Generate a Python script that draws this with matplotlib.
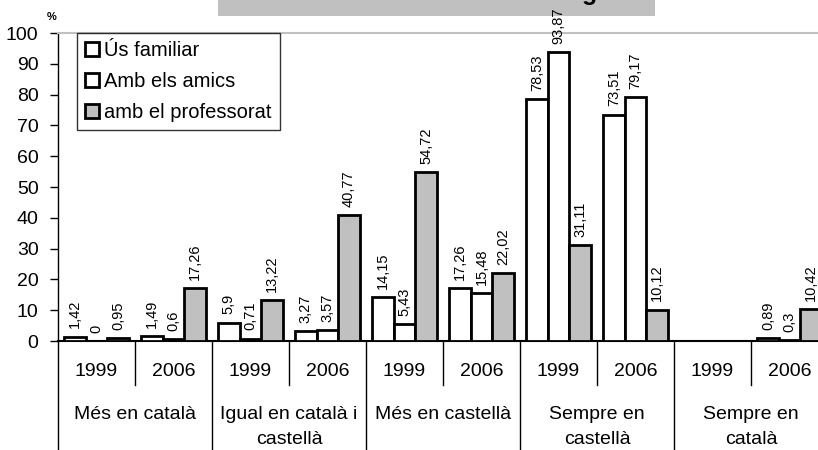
import numpy as np
import matplotlib
matplotlib.use("Agg")
import matplotlib.pyplot as plt
from matplotlib.patches import Rectangle
from matplotlib.transforms import blended_transform_factory

plt.rcParams["font.family"] = ["Liberation Sans", "DejaVu Sans"]

categories = ["Més en català", "Igual en català i\ncastellà", "Més en castellà",
              "Sempre en\ncastellà", "Sempre en\ncatalà"]
years = ["1999", "2006"]
series = ["Ús familiar", "Amb els amics", "amb el professorat"]
us_familiar = [1.42, 1.49, 5.9, 3.27, 14.15, 17.26, 78.53, 73.51, None, 0.89]
amb_amics = [0, 0.6, 0.71, 3.57, 5.43, 15.48, 93.87, 79.17, None, 0.3]
professorat = [0.95, 17.26, 13.22, 40.77, 54.72, 22.02, 31.11, 10.12, None, 10.42]
values = [us_familiar, amb_amics, professorat]
colors = ["white", "white", "#c0c0c0"]

W, H = 818, 450
fig = plt.figure(figsize=(W / 100, H / 100), dpi=100)
ax = fig.add_axes([58 / W, 1 - 341 / H, 770 / W, 308 / H])

n = len(us_familiar)
x = np.arange(n) + 0.5
bw = 0.28
for k, (vals, col, name) in enumerate(zip(values, colors, series)):
    xs = [xi + (k - 1) * bw for xi, v in zip(x, vals) if v is not None]
    hs = [v for v in vals if v is not None]
    ax.bar(xs, hs, width=bw, color=col, edgecolor="black", linewidth=2,
           label=name, zorder=3)
    for xi, v in zip(xs, hs):
        ax.annotate(f"{v:g}".replace(".", ","), (xi, v), xytext=(0, 6),
                    textcoords="offset points", rotation=90, ha="center",
                    va="bottom", fontsize=10.5, annotation_clip=False)

ax.set_xlim(0, n)
ax.set_ylim(0, 100)
ax.set_yticks(range(0, 101, 10))
ax.set_xticks([])
ax.tick_params(axis="y", labelsize=14, length=6, width=1, pad=8)
for s in ["left", "bottom"]:
    ax.spines[s].set_color("black")
ax.spines["left"].set_linewidth(1)
ax.spines["bottom"].set_linewidth(1.5)
ax.spines["top"].set_color("#c0c0c0")
ax.spines["top"].set_linewidth(1.5)
ax.spines["right"].set_color("#c0c0c0")

# two-level category axis
tr = blended_transform_factory(ax.transData, ax.transAxes)
for i in range(n):
    ax.text(x[i], -0.1, years[i % 2], transform=tr, ha="center",
            va="center", fontsize=14)
for i in range(1, n, 2):
    ax.plot([i, i], [0, -0.143], transform=tr, color="black", lw=1,
            clip_on=False)
for i in range(0, n + 1, 2):
    ax.plot([i, i], [0, -0.4], transform=tr, color="black", lw=1,
            clip_on=False)
for j, cat in enumerate(categories):
    ax.text(2 * j + 1, -0.21, cat, transform=tr, ha="center", va="top",
            fontsize=14, linespacing=1.65)

leg = ax.legend(loc="upper left", bbox_to_anchor=(19 / 770, 1.0),
                borderaxespad=0, fontsize=14.5, frameon=True, fancybox=False,
                handlelength=0.7, handleheight=0.7, handletextpad=0.25,
                labelspacing=0.6, borderpad=0.4)
leg.get_frame().set_edgecolor("black")
leg.get_frame().set_linewidth(1)
leg.set_zorder(5)

fig.text(52 / W, 1 - 17 / H, "%", fontsize=8, fontweight="bold",
         ha="center", va="center")

# title box (mostly cropped in the original)
fig.patches.append(Rectangle((218 / W, 1 - 15.5 / H), 437 / W, 15.5 / H,
                             transform=fig.transFigure, facecolor="#c0c0c0",
                             edgecolor="none", zorder=-1))
fig.text(590 / W, 1.0, "g", fontsize=18, fontweight="bold", ha="center",
         va="baseline")

fig.savefig("out.png", dpi=100)
